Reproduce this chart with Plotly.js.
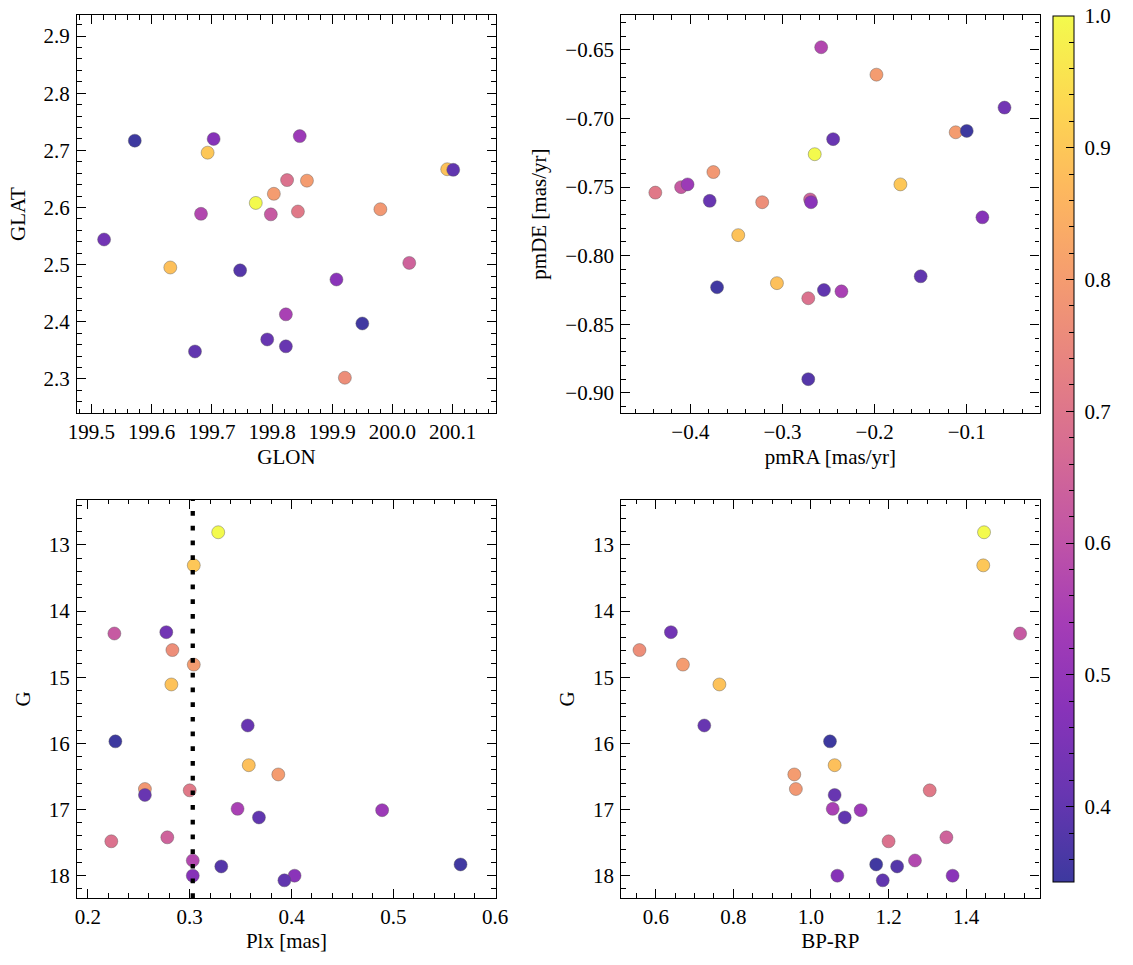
<!DOCTYPE html>
<html>
<head>
<meta charset="utf-8">
<script src="https://cdn.plot.ly/plotly-3.0.1.min.js"></script>
<style>html,body{margin:0;padding:0;background:#fff;}</style>
</head>
<body>
<div id="chart" style="width:1133px;height:965px;"></div>
<script>
// ---- data (one entry per star, sorted by membership probability) ----
const glon = [199.773, 199.693, 200.091, 199.631, 199.858, 199.803, 199.980, 199.921, 199.843, 199.825, 200.028, 199.798, 199.682, 199.823, 199.846, 199.907, 199.703, 199.521, 199.792, 199.823, 200.101, 199.672, 199.747, 199.950, 199.572];
const glat = [2.608, 2.696, 2.667, 2.495, 2.647, 2.624, 2.597, 2.302, 2.593, 2.648, 2.503, 2.588, 2.589, 2.413, 2.725, 2.474, 2.720, 2.544, 2.369, 2.357, 2.666, 2.348, 2.490, 2.397, 2.717];
const pmra = [-0.265, -0.172, -0.348, -0.306, -0.198, -0.112, -0.375, -0.322, -0.438, -0.272, -0.270, -0.410, -0.258, -0.236, -0.403, -0.269, -0.083, -0.059, -0.245, -0.379, -0.150, -0.255, -0.272, -0.371, -0.100];
const pmde = [-0.726, -0.748, -0.785, -0.820, -0.668, -0.710, -0.739, -0.761, -0.754, -0.831, -0.759, -0.750, -0.648, -0.826, -0.748, -0.761, -0.772, -0.692, -0.715, -0.760, -0.815, -0.825, -0.890, -0.823, -0.709];
const plx  = [0.328, 0.304, 0.282, 0.358, 0.304, 0.387, 0.256, 0.283, 0.300, 0.223, 0.278, 0.226, 0.303, 0.347, 0.489, 0.403, 0.303, 0.277, 0.357, 0.256, 0.393, 0.368, 0.331, 0.566, 0.227];
const gmag = [12.81, 13.31, 15.11, 16.33, 14.81, 16.47, 16.69, 14.59, 16.71, 17.48, 17.42, 14.34, 17.77, 16.99, 17.01, 18.00, 18.00, 14.32, 15.73, 16.78, 18.07, 17.12, 17.86, 17.83, 15.97];
const bprp = [1.446, 1.444, 0.764, 1.061, 0.670, 0.957, 0.961, 0.558, 1.306, 1.200, 1.349, 1.539, 1.268, 1.056, 1.128, 1.365, 1.068, 0.639, 0.725, 1.061, 1.185, 1.087, 1.222, 1.168, 1.049];
const prob = [1.00, 0.90, 0.89, 0.885, 0.80, 0.80, 0.79, 0.765, 0.71, 0.69, 0.645, 0.62, 0.57, 0.55, 0.52, 0.48, 0.47, 0.43, 0.41, 0.41, 0.40, 0.40, 0.38, 0.35, 0.343];
const meanPlx = 0.303;
const probMin = 0.343, probMax = 1.0;

// plasma colormap, pre-blended with white at alpha 0.8
const plasmaBlend = [
  [0.0, '#3d399f'], [0.1, '#6736b1'], [0.2, '#8833b9'], [0.3, '#a53db6'],
  [0.4, '#c155a6'], [0.5, '#d66c93'], [0.6, '#e78381'], [0.7, '#f59d6f'],
  [0.8, '#fdb85e'], [0.9, '#fdd851'], [1.0, '#f3fa4d']
];

function F() { return {family: 'Liberation Serif, serif', size: 21, color: '#000'}; }

function cbBase() {
  return {
    x: 0.9648, xanchor: 'left', xpad: 0, xref: 'paper',
    y: 0.50866, yanchor: 'middle', ypad: 0, yref: 'paper',
    len: 0.98041, lenmode: 'fraction', thickness: 21, thicknessmode: 'pixels',
    tickmode: 'linear', tick0: 0, tickcolor: '#000', tickwidth: 1, ticks: 'inside'
  };
}

function marker(showscale, cs, cb) {
  const m = {
    color: prob, cmin: probMin, cmax: probMax, colorscale: cs || plasmaBlend,
    size: 13, line: {width: 0.6, color: 'rgba(90,90,90,0.7)'}, showscale: !!showscale
  };
  if (cb) m.colorbar = cb;
  return m;
}

const traces = [
  {type: 'scatter', mode: 'markers', x: glon, y: glat, xaxis: 'x', yaxis: 'y',
   marker: marker(true, null, Object.assign(cbBase(), {
     outlinewidth: 1, outlinecolor: '#000', ticklen: 8, dtick: 0.1,
     tickformat: '.1f', tickprefix: '\u00a0', tickfont: F()}))},
  {type: 'scatter', mode: 'markers', x: pmra, y: pmde, xaxis: 'x2', yaxis: 'y2', marker: marker(false)},
  {type: 'scatter', mode: 'markers', x: plx, y: gmag, xaxis: 'x3', yaxis: 'y3', marker: marker(false)},
  {type: 'scatter', mode: 'markers', x: bprp, y: gmag, xaxis: 'x4', yaxis: 'y4', marker: marker(false)},
  // transparent copy that only carries the minor ticks of the colour bar
  {type: 'scatter', mode: 'markers', x: glon, y: glat, xaxis: 'x', yaxis: 'y', hoverinfo: 'skip',
   marker: Object.assign(marker(true, [[0, 'rgba(0,0,0,0)'], [1, 'rgba(0,0,0,0)']], Object.assign(cbBase(), {
     outlinewidth: 0, ticklen: 4.5, dtick: 0.02, showticklabels: false})), {line: {width: 0}})}
];

function ax(extra, minorD, isY) {
  return Object.assign({
    showline: true, linecolor: '#000', linewidth: 1.2, mirror: 'ticks',
    ticks: 'inside', ticklen: 9, tickwidth: 1, tickcolor: '#000',
    showgrid: false, zeroline: false, ticklabelstandoff: isY ? 2 : 0,
    tickfont: F(),
    minor: {ticks: 'inside', ticklen: 4.5, tickwidth: 1, tickcolor: '#000', dtick: minorD}
  }, extra);
}

const X1 = [0, 0.41400], X2 = [0.53779, 0.95111];
const YT = [0.54908, 1], YB = [0, 0.45092];

const layout = {
  width: 1133, height: 965,
  margin: {l: 77.3, r: 33, t: 15, b: 66.7, pad: 0},
  paper_bgcolor: '#fff', plot_bgcolor: '#fff', showlegend: false,
  font: F(),
  xaxis: ax({domain: X1, anchor: 'y', range: [199.476, 200.172], dtick: 0.1, tick0: 199.5, tickformat: '.1f',
             title: {text: 'GLON', font: F(), standoff: 5}}, 0.02),
  yaxis: ax({domain: YT, anchor: 'x', range: [2.240, 2.937], dtick: 0.1, tick0: 2.3, tickformat: '.1f',
             title: {text: 'GLAT', font: F(), standoff: 12}}, 0.02, true),
  xaxis2: ax({domain: X2, anchor: 'y2', range: [-0.475, -0.021], dtick: 0.1, tick0: -0.4, tickformat: '.1f',
             title: {text: 'pmRA [mas/yr]', font: F(), standoff: 5}}, 0.02),
  yaxis2: ax({domain: YT, anchor: 'x2', range: [-0.9148, -0.6245], dtick: 0.05, tick0: -0.9, tickformat: '.2f',
             title: {text: 'pmDE [mas/yr]', font: F(), standoff: 12}}, 0.01, true),
  xaxis3: ax({domain: X1, anchor: 'y3', range: [0.1893, 0.6008], dtick: 0.1, tick0: 0.2, tickformat: '.1f',
             title: {text: 'Plx [mas]', font: F(), standoff: 5}}, 0.02),
  yaxis3: ax({domain: YB, anchor: 'x3', range: [18.337, 12.32], dtick: 1, tick0: 13,
             title: {text: 'G', font: F(), standoff: 12}}, 0.2, true),
  xaxis4: ax({domain: X2, anchor: 'y4', range: [0.511, 1.589], dtick: 0.2, tick0: 0.6, tickformat: '.1f',
             title: {text: 'BP-RP', font: F(), standoff: 5}}, 0.05),
  yaxis4: ax({domain: YB, anchor: 'x4', range: [18.337, 12.32], dtick: 1, tick0: 13,
             title: {text: 'G', font: F(), standoff: 12}}, 0.2, true),
  shapes: [{
    type: 'line', xref: 'x3', yref: 'y3 domain', x0: meanPlx, x1: meanPlx, y0: 0, y1: 1,
    line: {color: '#000', width: 4.3, dash: '4.7px,10px'}, layer: 'above'
  }]
};

Plotly.newPlot('chart', traces, layout, {displayModeBar: false});
</script>
</body>
</html>
